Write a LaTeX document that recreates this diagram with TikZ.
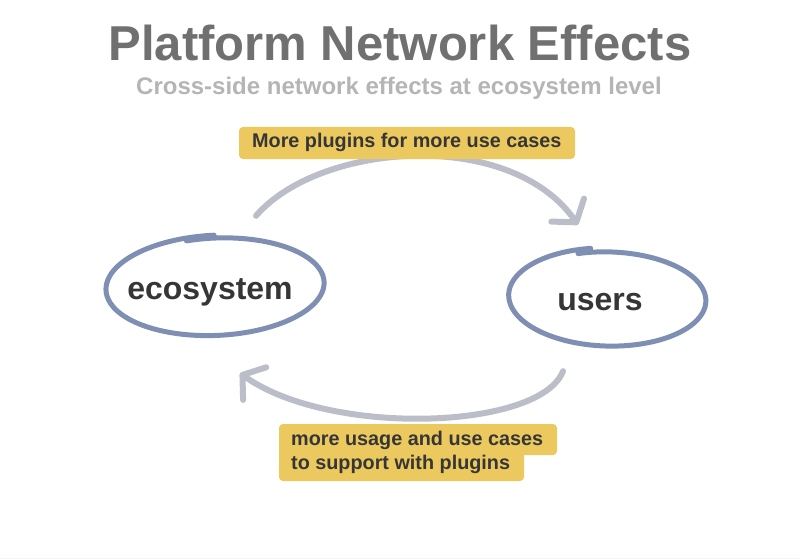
\documentclass[tikz,border=0pt]{standalone}
\usepackage{fontspec}
\setmainfont{Liberation Sans}
\usetikzlibrary{arrows.meta,shapes.geometric}
\definecolor{titlegray}{HTML}{707070}
\definecolor{subgray}{HTML}{B5B5B5}
\definecolor{ink}{HTML}{363636}
\definecolor{ringblue}{HTML}{7F8FB3}
\definecolor{arrowgray}{HTML}{BBBEC9}
\definecolor{hilite}{HTML}{EBC95E}
\tikzset{
  ring/.style={draw=none, ellipse, text=ink, font=\bfseries\fontsize{32}{36}\selectfont},
  ringline/.style={ringblue, line width=5pt, line cap=round, line join=round},
  flow/.style={arrowgray, line width=6pt, line cap=round,
    -{Straight Barb[length=15pt,width=40pt,line width=6pt,round]}},
  tag/.style={text=ink, font=\bfseries\fontsize{19.8}{24}\selectfont, inner sep=0pt, anchor=west},
  tagfill/.style={fill=hilite, rounded corners=4pt, draw=none}
}
\begin{document}
\begin{tikzpicture}[x=1pt,y=-1pt]
\useasboundingbox (0,0) rectangle (800,559);
\fill[white] (0,0) rectangle (800,559);
\fill[black!4] (0,557.5) rectangle (800,559);
% titles
\node[text=titlegray, font=\bfseries\fontsize{49}{52}\selectfont] (title) at (400,43) {Platform Network Effects};
\node[text=subgray, font=\bfseries\fontsize{24}{28}\selectfont] (sub) at (399,88) {Cross-side network effects at ecosystem level};
% nodes
\node[ring, minimum width=222pt, minimum height=102pt] (eco) at (210,292) {ecosystem};
\node[ring, minimum width=200pt, minimum height=100pt] (usr) at (600,302) {users};
% sketchy rings
\draw[ringline] plot[domain=95:470,samples=90,smooth]
  ({216+(111-4*(\x-95)/375)*cos(\x-4)}, {286-(51-3*(\x-95)/375)*sin(\x)});
\draw[ringline] plot[domain=100:468,samples=90,smooth]
  ({608+(100-3*(\x-100)/368)*cos(\x)}, {298-(50-4*(\x-100)/368)*sin(\x-3)});
% connectors
\coordinate (a1) at ([shift={(46,-25)}]eco.north);
\coordinate (b1) at ([shift={(-22,-27)}]usr.north);
\draw[flow] (a1) .. controls (320,142) and (510,128) .. (b1);
\coordinate (a2) at ([shift={(-37,19)}]usr.south);
\coordinate (b2) at ([shift={(30,30)}]eco.south);
\draw[flow] (a2) .. controls (540,430) and (330,437) .. (b2);
% labels
\fill[tagfill] (239,127) rectangle (575,159);
\node[tag] (top) at (252,142.5) {More plugins for more use cases};
\fill[tagfill] (279,424) rectangle (557,455);
\fill[tagfill] (279,449) rectangle (524,481);
\node[tag, align=left] (bot) at (291,452) {more usage and use cases\\to support with plugins};
\end{tikzpicture}
\end{document}
